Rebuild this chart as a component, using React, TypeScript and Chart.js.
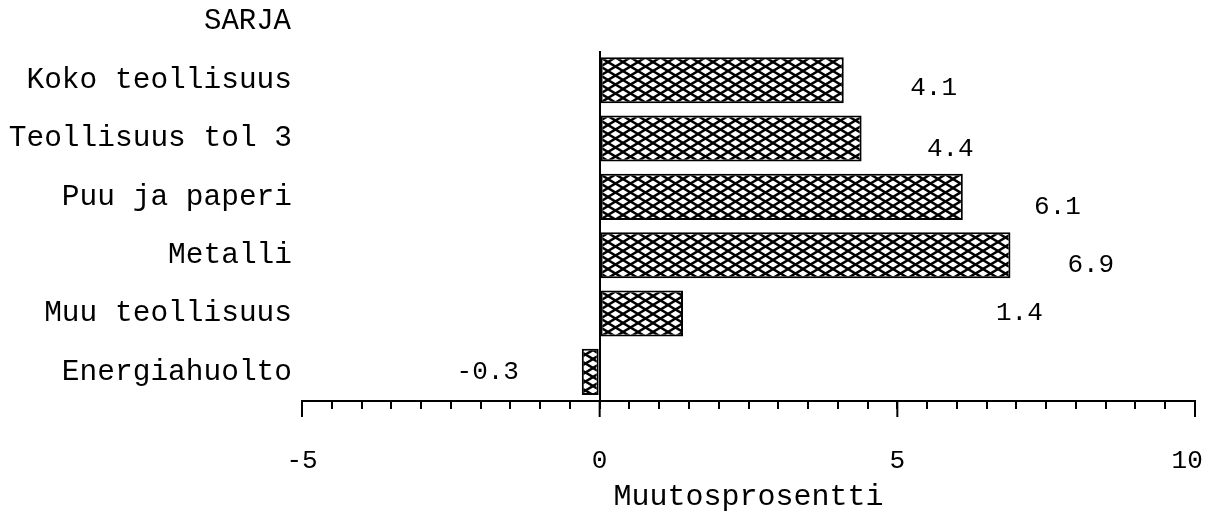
import React, { useEffect, useRef } from 'react';
import { Chart, registerables } from 'chart.js';

Chart.register(...registerables);

const categories = [
  'Koko teollisuus',
  'Teollisuus tol 3',
  'Puu ja paperi',
  'Metalli',
  'Muu teollisuus',
  'Energiahuolto',
];
const values = [4.1, 4.4, 6.1, 6.9, 1.4, -0.3];
const valueLabels = ['4.1', '4.4', '6.1', '6.9', '1.4', '-0.3'];
// where the value labels sit, in data units (x) and category offsets (y)
const valueLabelX = [5.61, 5.89, 7.69, 8.25, 7.05, -1.88];
const valueLabelDy = [0.13, 0.19, 0.17, 0.17, 0, 0];
const xMin = -5;
const xMax = 10;
const xMinorStep = 0.5;
const majorTicks = [-5, 0, 5, 10];
const xTickLabels: Record<string, string> = { '-5': '-5', '0': '0', '5': '5', '10': '10 ' };
const axisTitle = 'Muutosprosentti';
const seriesTitle = 'SARJA';

const MONO = '"Liberation Mono", "DejaVu Sans Mono", monospace';

function makeHatch(): CanvasPattern | string {
  const w = 15;
  const h = 9;
  const c = document.createElement('canvas');
  c.width = w;
  c.height = h;
  const g = c.getContext('2d');
  if (!g) return '#888';
  g.fillStyle = '#fff';
  g.fillRect(0, 0, w, h);
  g.strokeStyle = '#000';
  g.lineWidth = 2.4;
  for (const dx of [-w, 0, w]) {
    for (const dy of [-h, 0, h]) {
      g.beginPath();
      g.moveTo(dx, dy);
      g.lineTo(dx + w, dy + h);
      g.moveTo(dx, dy + h);
      g.lineTo(dx + w, dy);
      g.stroke();
    }
  }
  return g.createPattern(c, 'repeat') || '#888';
}

const annotations = {
  id: 'annotations',
  afterDraw(chart: any) {
    const { ctx } = chart;
    const xs = chart.scales.x;
    const ys = chart.scales.y;
    ctx.save();
    // longer major tick marks
    ctx.strokeStyle = '#000';
    ctx.lineWidth = 2;
    majorTicks.forEach((v) => {
      const x = xs.getPixelForValue(v);
      ctx.beginPath();
      ctx.moveTo(x, xs.top);
      ctx.lineTo(x, xs.top + 16);
      ctx.stroke();
    });
    // value labels
    ctx.fillStyle = '#000';
    ctx.font = `26px ${MONO}`;
    ctx.textAlign = 'center';
    ctx.textBaseline = 'middle';
    valueLabels.forEach((t, i) => {
      ctx.fillText(t, xs.getPixelForValue(valueLabelX[i]), ys.getPixelForValue(i + valueLabelDy[i]));
    });
    // series heading above the category labels
    ctx.font = `29px ${MONO}`;
    ctx.textAlign = 'right';
    ctx.fillText(seriesTitle, ys.right - 11, chart.chartArea.top - 30);
    ctx.restore();
  },
};

export default function App() {
  const ref = useRef<HTMLCanvasElement | null>(null);

  useEffect(() => {
    if (!ref.current) return;
    const hatch = makeHatch();
    const chart = new Chart(ref.current, {
      type: 'bar',
      data: {
        labels: categories,
        datasets: [
          {
            data: values,
            backgroundColor: hatch as any,
            borderColor: '#000',
            borderWidth: 2,
            borderSkipped: false,
            barPercentage: 0.79,
            categoryPercentage: 1,
          },
        ],
      },
      options: {
        indexAxis: 'y',
        animation: false,
        responsive: true,
        maintainAspectRatio: false,
        layout: { padding: { top: 43, right: 9, left: 0, bottom: 0 } },
        plugins: {
          legend: { display: false },
          tooltip: { enabled: false },
        },
        scales: {
          x: {
            type: 'linear',
            min: xMin,
            max: xMax,
            grid: {
              color: (c: any) => (c.tick && c.tick.value === 0 ? '#000' : 'rgba(0,0,0,0)'),
              lineWidth: 2,
              tickColor: '#000',
              tickWidth: 2,
              tickLength: 8,
              drawTicks: true,
            },
            border: { display: true, color: '#000', width: 2 },
            ticks: {
              stepSize: xMinorStep,
              autoSkip: false,
              maxRotation: 0,
              padding: 37,
              color: '#000',
              font: { family: MONO, size: 26 },
              callback: (v: any) => xTickLabels[String(v)] ?? '',
            },
            title: {
              display: true,
              text: axisTitle,
              color: '#000',
              font: { family: MONO, size: 30 },
              padding: { top: 0, bottom: 9 },
            },
            afterFit: (s: any) => {
              s.height = 123;
              s.paddingLeft = 0;
              s.paddingRight = 0;
            },
          },
          y: {
            grid: { display: false },
            border: { display: false },
            ticks: {
              color: '#000',
              padding: 2,
              font: { family: MONO, size: 29.5 },
            },
            afterFit: (s: any) => {
              s.width = 294;
              s.paddingTop = 0;
              s.paddingBottom = 0;
            },
          },
        },
      },
      plugins: [annotations],
    });
    return () => chart.destroy();
  }, []);

  return (
    <div style={{ position: 'relative', width: '100%', height: '516px' }}>
      <canvas ref={ref} />
    </div>
  );
}
